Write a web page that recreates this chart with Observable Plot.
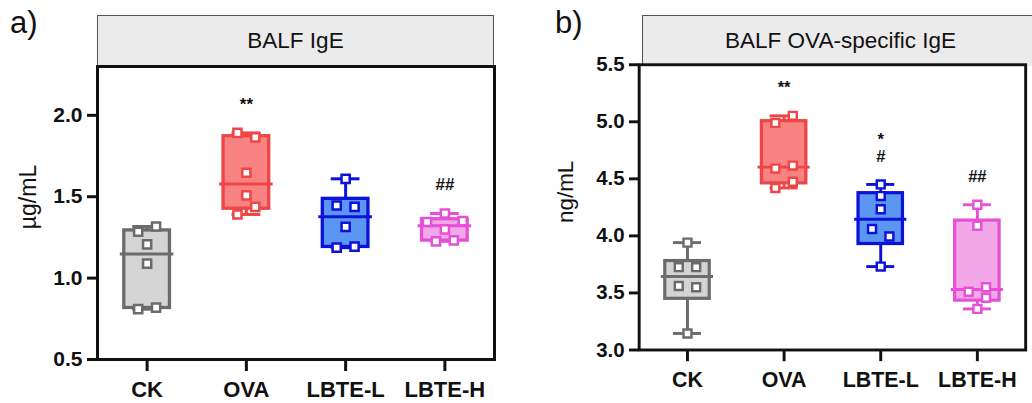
<!DOCTYPE html>
<html>
<head>
<meta charset="utf-8">
<script src="https://cdn.jsdelivr.net/npm/d3@7"></script>
<script src="https://cdn.jsdelivr.net/npm/@observablehq/plot@0.6"></script>
<style>
  body { margin: 0; background: #fff; font-family: "Liberation Sans", Arial, sans-serif; }
  #root { position: relative; width: 1032px; height: 403px; overflow: hidden; background: #fff; }
  .panel { position: absolute; top: 0; }
  .hdr { position: absolute; top: 15px; height: 51px; box-sizing: border-box; background: #ebebeb;
         border: 1px solid #555; border-bottom: none; display: flex; align-items: center;
         justify-content: center; font-size: 22.5px; color: #111; white-space: nowrap; }
  .tag { position: absolute; top: 7px; font-size: 31px; line-height: 31px; color: #111; }
</style>
</head>
<body>
<div id="root">
  <div class="tag" style="left:10px">a)</div>
  <div class="tag" style="left:555px">b)</div>
  <div class="hdr" style="left:97px;width:397px">BALF IgE</div>
  <div class="hdr" style="left:642px;width:397px">BALF OVA-specific IgE</div>
  <div class="panel" id="pa" style="left:0"></div>
  <div class="panel" id="pb" style="left:516px"></div>
</div>
<script>
// ---- data ----
const groups = ["CK", "OVA", "LBTE-L", "LBTE-H"];
const strokeColors = ["#6b6b6b", "#ee4646", "#0c12d8", "#e650d6"];
const fillColors = ["#d4d4d4", "#f98383", "#5b97f2", "#f2a8e8"];

// a) BALF IgE (µg/mL), six animals per group
const igeValues = [
  [0.809, 0.819, 1.089, 1.207, 1.285, 1.317],
  [1.391, 1.438, 1.508, 1.647, 1.865, 1.892],
  [1.187, 1.193, 1.315, 1.438, 1.446, 1.610],
  [1.226, 1.232, 1.299, 1.345, 1.350, 1.397]
];
const igeSides = [
  [-1, 1, 0, 0, -1, 1],
  [-1, 1, 0, 0, 1, -1],
  [-1, 1, 0, 1, -1, 0],
  [-1, 1, 0, -2, 2, 0]
];
const igeMarks = ["", "**", "", "##"];
const igeTicks = [0.5, 1.0, 1.5, 2.0];
const igeDomain = [0.5, 2.3];

// b) BALF OVA-specific IgE (ng/mL)
const sigeValues = [
  [3.145, 3.550, 3.561, 3.726, 3.726, 3.941],
  [4.420, 4.474, 4.590, 4.616, 4.990, 5.052],
  [3.731, 3.995, 4.060, 4.233, 4.349, 4.451],
  [3.360, 3.457, 3.510, 3.550, 4.088, 4.273]
];
const sigeSides = [
  [0, 1, -1, -1, 1, 0],
  [-1, 1, -1, 1, -1, 1],
  [0, 1, -1, 0, 0, 0],
  [0, 1, -1, 1, 0, 0]
];
const sigeMarks = ["", "**", "*\n#", "##"];
const sigeTicks = [3.0, 3.5, 4.0, 4.5, 5.0, 5.5];
const sigeDomain = [3.0, 5.5];

// Prism-style percentile ((n+1)p)
function pct(sorted, p) {
  let h = (sorted.length + 1) * p - 1;
  h = Math.max(0, Math.min(sorted.length - 1, h));
  const lo = Math.floor(h), hi = Math.ceil(h);
  return sorted[lo] + (h - lo) * (sorted[hi] - sorted[lo]);
}

function build(values, sides, marks) {
  const stats = values.map((vals, i) => {
    const s = vals.slice().sort((a, b) => a - b);
    return {
      i, name: groups[i], min: s[0], max: s[s.length - 1],
      q1: pct(s, 0.25), med: pct(s, 0.5), q3: pct(s, 0.75),
      stroke: strokeColors[i], fill: fillColors[i], label: marks[i]
    };
  });
  const points = values.flatMap((vals, i) =>
    vals.map((v, j) => ({ i, v, side: sides[i][j], stroke: strokeColors[i] })));
  return { stats, points };
}

function panel({ values, sides, marks, ticks, domain, unit, width, marginLeft, marginRight, labelDx }) {
  const { stats, points } = build(values, sides, marks);
  return Plot.plot({
    width, height: 403,
    marginLeft, marginRight, marginTop: 66, marginBottom: 44,
    style: { fontFamily: "'Liberation Sans', Arial, sans-serif", color: "#111", background: "transparent", overflow: "visible" },
    x: { type: "linear", domain: [-0.5, 3.5], axis: null },
    y: { domain, axis: null },
    color: { type: "identity" },
    marks: [
      Plot.ruleX(stats, { x: "i", y1: "min", y2: "max", stroke: "stroke", strokeWidth: 3 }),
      Plot.ruleY(stats, { y: "max", x1: d => d.i - 0.145, x2: d => d.i + 0.145, stroke: "stroke", strokeWidth: 3 }),
      Plot.ruleY(stats, { y: "min", x1: d => d.i - 0.145, x2: d => d.i + 0.145, stroke: "stroke", strokeWidth: 3 }),
      Plot.rect(stats, { x1: d => d.i - 0.23, x2: d => d.i + 0.23, y1: "q1", y2: "q3", fill: "fill", stroke: "stroke", strokeWidth: 3.3 }),
      Plot.ruleY(stats, { y: "med", x1: d => d.i - 0.27, x2: d => d.i + 0.27, stroke: "stroke", strokeWidth: 3 }),
      Plot.dot(points, { x: d => d.i + d.side * 0.09, y: "v", symbol: "square", r: 4.6, fill: "white", stroke: "stroke", strokeWidth: 2.5 }),
      Plot.text(stats, { x: "i", y: "max", text: "label", dy: -23, lineAnchor: "bottom", lineHeight: 1.05, fontSize: 17, fontWeight: "bold", fill: "#111" }),
      Plot.frame({ stroke: "#111", strokeWidth: 3 }),
      Plot.axisY({ ticks, tickFormat: d3.format(".1f"), tickSize: 10, tickPadding: 5, strokeWidth: 3, fontSize: 21, fontWeight: "bold", label: null }),
      Plot.axisX({ ticks: [0, 1, 2, 3], tickFormat: i => groups[i], tickSize: 12, tickPadding: 10, strokeWidth: 3, fontSize: 22, fontWeight: "bold", label: null }),
      Plot.text([unit], { text: d => d, frameAnchor: "left", textAnchor: "middle", lineAnchor: "middle", rotate: -90, dx: labelDx, dy: -16, fontSize: 23, fill: "#111" })
    ]
  });
}

document.getElementById("pa").append(panel({
  values: igeValues, sides: igeSides, marks: igeMarks, ticks: igeTicks, domain: igeDomain,
  unit: "µg/mL", width: 516, marginLeft: 97, marginRight: 22, labelDx: -69
}));
document.getElementById("pb").append(panel({
  values: sigeValues, sides: sigeSides, marks: sigeMarks, ticks: sigeTicks, domain: sigeDomain,
  unit: "ng/mL", width: 530, marginLeft: 126, marginRight: 7, labelDx: -75
}));
</script>
</body>
</html>
